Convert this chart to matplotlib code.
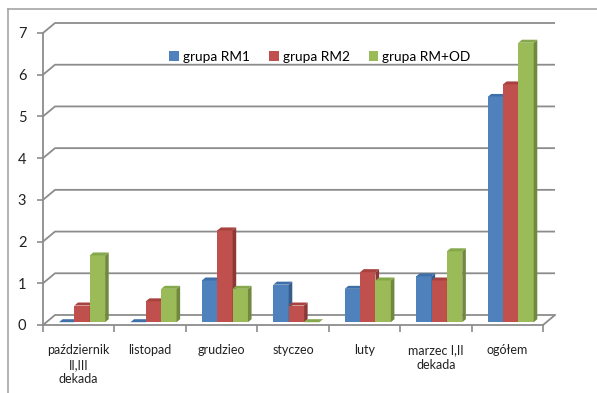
import matplotlib
matplotlib.use("Agg")
import matplotlib.pyplot as plt
from matplotlib.patches import Polygon
from matplotlib.lines import Line2D
from matplotlib.patches import Patch

categories = ["październik\nII,III\ndekada", "listopad", "grudzieo", "styczeo",
              "luty", "marzec I,II\ndekada", "ogółem"]
series_names = ["grupa RM1", "grupa RM2", "grupa RM+OD"]
rm1 = [0.0, 0.0, 1.0, 0.9, 0.8, 1.1, 5.4]
rm2 = [0.4, 0.5, 2.2, 0.4, 1.2, 1.0, 5.7]
rmod = [1.6, 0.8, 0.8, 0.0, 1.0, 1.7, 6.7]
y_ticks = [0, 1, 2, 3, 4, 5, 6, 7]

front_cols = ["#4F81BD", "#C0504D", "#9BBB59"]
side_cols = ["#385D8A", "#8C3836", "#71893F"]
top_cols = ["#3F6FA8", "#A8423F", "#85A84A"]
grid_col = "#8C8C8C"

W, H = 597, 393
fig = plt.figure(figsize=(W / 100, H / 100), dpi=100)
plt.rcParams['font.family'] = ['Lato', 'DejaVu Sans']

# pixel geometry
x0_px, x1_px = 43, 543
y0_px = 325
ux = (x1_px - x0_px) / 7.0
uy = (325 - 33) / 7.0
dx_px, dy_px = 12, 10
DX, DY = dx_px / ux, dy_px / uy

ax_right = x1_px + dx_px
ax_top = 20
ax = fig.add_axes([x0_px / W, (H - y0_px) / H, (ax_right - x0_px) / W, (y0_px - ax_top) / H])
ax.set_xlim(-0.5, -0.5 + (ax_right - x0_px) / ux)
ax.set_ylim(0, (y0_px - ax_top) / uy)
ax.patch.set_visible(False)

# outer frame (left and top)
fig.add_artist(Line2D([7.5 / W, 7.5 / W], [0, 1 - 9 / H], transform=fig.transFigure, color="#A6A6A6", lw=1.2))
fig.add_artist(Line2D([7.5 / W, 1], [1 - 9 / H, 1 - 9 / H], transform=fig.transFigure, color="#A6A6A6", lw=1.2))

# walls / gridlines
for v in y_ticks:
    ax.plot([-0.5, -0.5 + DX, 6.5 + DX], [v, v + DY, v + DY], color=grid_col, lw=1.3,
            solid_capstyle='butt', zorder=1, clip_on=False)
ax.plot([6.5, 6.5 + DX], [0, DY], color=grid_col, lw=1.3, zorder=1, clip_on=False)

for s in ["top", "right"]:
    ax.spines[s].set_visible(False)
ax.spines["left"].set_bounds(0, 7)
ax.spines["bottom"].set_bounds(-0.5, 6.5)
for s in ["left", "bottom"]:
    ax.spines[s].set_color(grid_col)
    ax.spines[s].set_linewidth(1.3)

ax.set_yticks(y_ticks)
ax.set_yticklabels([str(v) for v in y_ticks], fontsize=10.5, color="#222222")
ax.tick_params(axis="y", length=4, color=grid_col, width=1.2, pad=8)
ax.set_xticks(range(7))
ax.set_xticklabels(categories, fontsize=9, color="#222222", linespacing=1.25, va="top")
ax.set_xticks([i - 0.5 for i in range(8)], minor=True)
ax.tick_params(axis="x", which="major", length=0, pad=14)
ax.tick_params(axis="x", which="minor", length=5, color=grid_col, width=1.2)

# bars with pseudo-3D
w = 0.215
f0, f1 = 0.28, 0.58
series = [rm1, rm2, rmod]
z = 3
for ci in range(len(categories)):
    for si, vals in enumerate(series):
        v = vals[ci]
        xl = ci + (si - 1) * w - w / 2 + f0 * DX
        yb = f0 * DY
        ddx = (f1 - f0) * DX
        ddy = (f1 - f0) * DY
        ax.bar(xl, v, width=w, bottom=yb, align="edge", color=front_cols[si],
               edgecolor="none", zorder=z, clip_on=False)
        side = Polygon([(xl + w, yb), (xl + w + ddx, yb + ddy), (xl + w + ddx, yb + ddy + v), (xl + w, yb + v)],
                       closed=True, facecolor=side_cols[si], edgecolor="none", zorder=z, clip_on=False)
        ax.add_patch(side)
        top = Polygon([(xl, yb + v), (xl + w, yb + v), (xl + w + ddx, yb + v + ddy), (xl + ddx, yb + v + ddy)],
                      closed=True, facecolor=top_cols[si], edgecolor="none", zorder=z, clip_on=False)
        ax.add_patch(top)
        z += 1

handles = [Patch(facecolor=c, edgecolor="none") for c in front_cols]
fig.legend(handles, series_names, loc="center", bbox_to_anchor=((170 + 470) / 2 / W, 1 - 57 / H),
           ncol=3, frameon=False, fontsize=9.8, handlelength=0.7, handleheight=0.7,
           handletextpad=0.3, columnspacing=1.4)

fig.savefig("out.png", dpi=100)
